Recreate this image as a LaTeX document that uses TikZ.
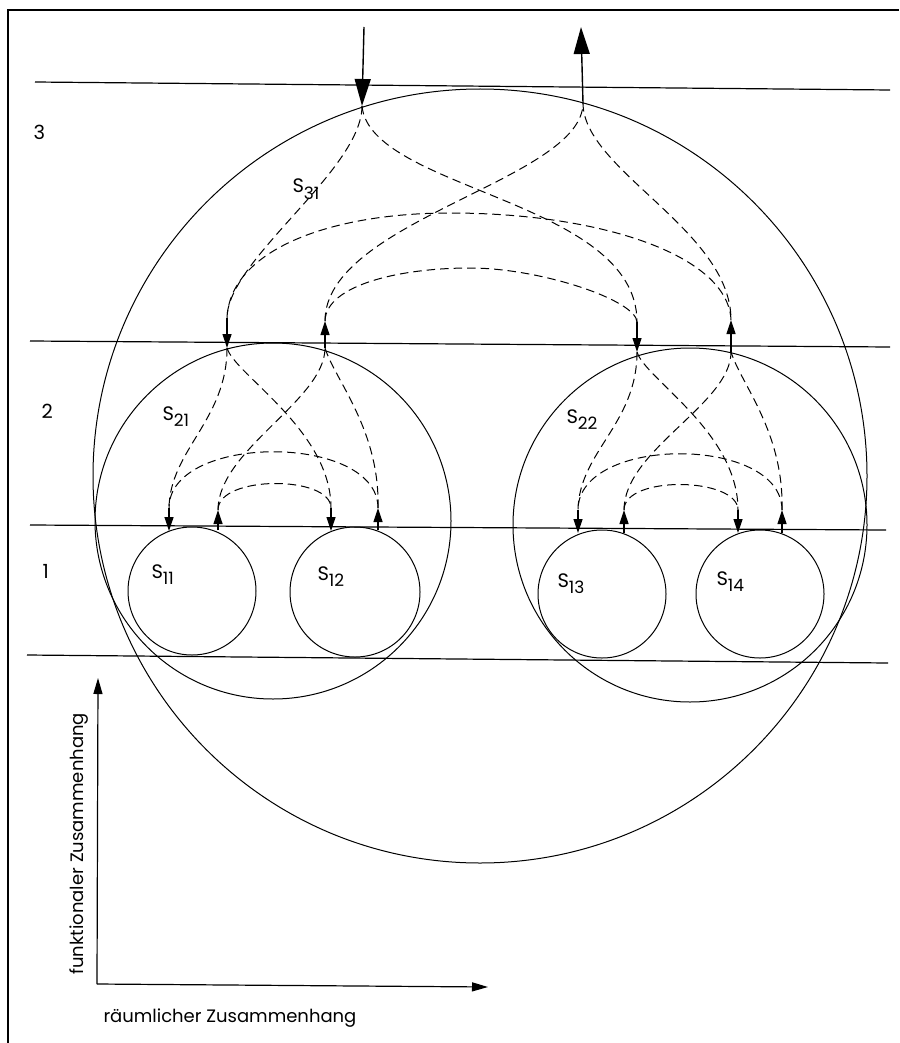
\documentclass[tikz,border=0pt]{standalone}
\usepackage{fontspec}
\setmainfont{Poppins}
\usetikzlibrary{arrows.meta,calc}
\newcommand\slab[1]{S\raisebox{-6pt}{\fontsize{17}{17}\selectfont #1}}
\begin{document}
\begin{tikzpicture}[x=1pt,y=-1pt,line width=1pt,
  lvl/.style={line width=1.2pt},
  frame/.style={line width=1.3pt},
  dsh/.style={dash pattern=on 8.5pt off 5pt,line width=1pt},
  sarrow/.style={line width=1.2pt,-{Triangle[length=14pt,width=9pt]}},
  bigarrow/.style={line width=1.4pt,-{Triangle[length=27pt,width=16pt]}},
  axarrow/.style={line width=1.2pt,-{Triangle[length=16pt,width=9pt]}},
  ring/.style={circle,draw,inner sep=0pt,line width=1pt},
  txt/.style={font=\fontsize{18}{20}\selectfont,inner sep=0pt},
  lab/.style={font=\fontsize{19.5}{21}\selectfont,inner sep=0pt}]
\useasboundingbox (0,0) rectangle (899,1043);
% frame
\draw[frame] (8,1043) -- (8,10) -- (899,10);
% level lines
\draw[lvl] (35,82) -- (890,90);
\draw[lvl] (30,341) -- (890,347);
\draw[lvl] (30,525) -- (886,530);
\draw[lvl] (27,655) -- (888,663);
% circles
\node[ring,minimum size=774pt] (S3) at (480,476) {};
\node[ring,minimum size=356pt] (S21) at (273,521) {};
\node[ring,minimum size=354pt] (S22) at (690,525) {};
\node[ring,minimum size=128pt] (S11) at (192,591) {};
\node[ring,minimum size=130pt] (S12) at (355,592) {};
\node[ring,minimum size=128pt] (S13) at (602,594) {};
\node[ring,minimum size=128pt] (S14) at (760,594) {};
% connection points
\coordinate (in3s) at (364,27);
\coordinate (in3) at (362,106);
\coordinate (out3) at (583,103);
\coordinate (out3t) at (581,27);
\coordinate (s21) at (227,318); \coordinate (t21) at (227,348);
\coordinate (o21) at (325,348); \coordinate (u21) at (325,321);
\coordinate (s22) at (637,322); \coordinate (t22) at (637,352);
\coordinate (o22) at (731,352); \coordinate (u22) at (731,320);
\coordinate (s11) at (169,508); \coordinate (t11) at (169,531);
\coordinate (o11) at (218,530); \coordinate (u11) at (218,510);
\coordinate (s12) at (331,508); \coordinate (t12) at (331,531);
\coordinate (o12) at (378,530); \coordinate (u12) at (378,508);
\coordinate (s13) at (578,510); \coordinate (t13) at (578,533);
\coordinate (o13) at (624,533); \coordinate (u13) at (624,510);
\coordinate (s14) at (738,510); \coordinate (t14) at (738,533);
\coordinate (o14) at (782,533); \coordinate (u14) at (782,510);
% solid arrows
\draw[bigarrow] (in3s) -- (in3);
\draw[bigarrow] (out3) -- (out3t);
\foreach \n in {21,22,11,12,13,14}{
  \draw[sarrow] (s\n) -- (t\n);
  \draw[sarrow] (o\n) -- (u\n);
}
% top level dashed
\draw[dsh] (in3) .. controls (362,170) and (227,260) .. (s21);
\draw[dsh] (in3) .. controls (370,190) and (637,200) .. (s22);
\draw[dsh] (u21) .. controls (325,220) and (583,180) .. (out3);
\draw[dsh] (out3) .. controls (583,170) and (731,230) .. (u22);
\draw[dsh] (u22) .. controls (728,255) and (600,213) .. (450,213)
               .. controls (330,213) and (230,250) .. (s21);
\draw[dsh] (u21) .. controls (326,285) and (400,268) .. (470,268)
               .. controls (540,268) and (636,300) .. (s22);
% second level dashed
\foreach \p/\a/\b in {21/11/12,22/13/14}{
  \draw[dsh] (t\p) .. controls ($(t\p)+(0,72)$) and ($(s\a)+(1,-58)$) .. (s\a);
  \draw[dsh] (t\p) .. controls ($(t\p)+(8,27)$) and ($(s\b)+(0,-78)$) .. (s\b);
  \draw[dsh] (u\a) .. controls ($(u\a)+(0,-60)$) and ($(o\p)+(0,52)$) .. (o\p);
  \draw[dsh] (u\b) .. controls ($(u\b)+(2,-78)$) and ($(o\p)+(10,32)$) .. (o\p);
  \draw[dsh] (u\b) .. controls ($(u\b)+(0,-75)$) and ($(s\a)+(0,-75)$) .. (s\a);
  \draw[dsh] (u\a) .. controls ($(u\a)+(0,-35)$) and ($(s\b)+(0,-33)$) .. (s\b);
}
% labels
\node[lab,anchor=base west] (n3) at (33,140) {3};
\node[lab,anchor=base west] (n2) at (41,418) {2};
\node[lab,anchor=base west] (n1) at (42,578) {1};
\node[lab,anchor=base west] (l31) at (292,193) {\slab{31}};
\node[lab,anchor=base west] (l21) at (162,420) {\slab{21}};
\node[lab,anchor=base west] (l22) at (566,423) {\slab{22}};
\node[lab,anchor=base west] (l11) at (151,578) {\slab{11}};
\node[lab,anchor=base west] (l12) at (317,580) {\slab{12}};
\node[lab,anchor=base west] (l13) at (557,587) {\slab{13}};
\node[lab,anchor=base west] (l14) at (716,585) {\slab{14}};
% axes
\coordinate (ax0) at (97,984);
\coordinate (axy) at (98,678);
\coordinate (axx) at (488,987);
\draw[axarrow] (ax0) -- (axy);
\draw[axarrow] (ax0) -- (axx);
\node[txt,anchor=base west] (lx) at (103,1022) {räumlicher Zusammenhang};
\node[txt,anchor=base west,rotate=90] (ly) at (83,975) {funktionaler Zusammenhang};
\end{tikzpicture}
\end{document}
